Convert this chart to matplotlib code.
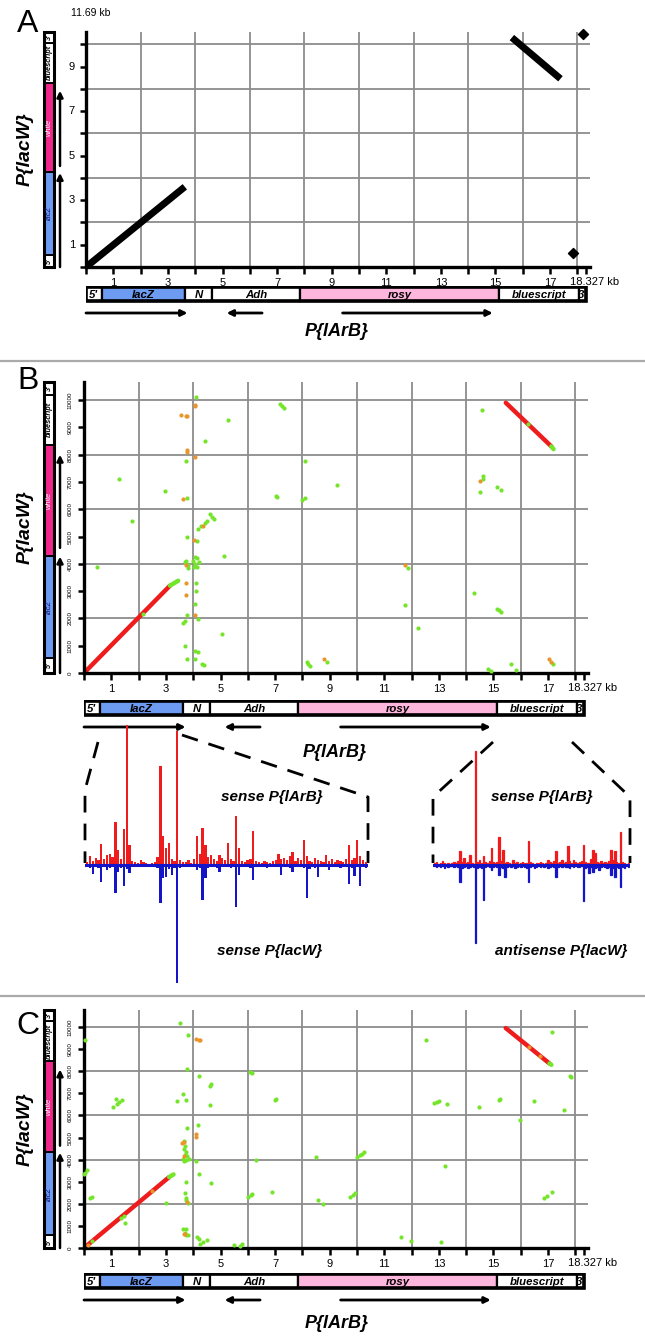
import matplotlib
matplotlib.use('Agg')
import matplotlib.pyplot as plt
from matplotlib.patches import Rectangle

plt.rcParams['font.family'] = ['Liberation Sans', 'DejaVu Sans']

# ---------------- data ----------------
# P{lArB} map along the x axis (kb)
larb_names = ["5'", 'lacZ', 'N', 'Adh', 'rosy', 'bluescript', "3'"]
larb_bounds = [0, 0.58, 3.62, 4.62, 7.84, 15.12, 18.05, 18.327]
larb_colors = ['white', '#6d9bf2', 'white', 'white', '#ffb6dd', 'white', 'white']
larb_arrows = [(0.0, 3.72), (6.45, 5.15), (9.4, 14.9)]

# P{lacW} map along the y axis (fraction of axis height)
lacw_names = ["5'", 'lacZ', 'white', 'bluescript', "3'"]
lacw_bounds = [0, 0.053, 0.403, 0.785, 0.955, 1.0]
lacw_colors = ['white', '#6d9bf2', '#f0288c', 'white', 'white']
lacw_text_colors = ['black', '#10106a', 'white', 'black', 'black']
lacw_arrows = [(0.0, 0.40), (0.43, 0.75)]

x_ticks = list(range(0, 19))
x_labels = [str(v) if v % 2 == 1 else '' for v in x_ticks]
grid_x = [2, 4, 6, 8, 10, 12, 14, 16, 18]

# panel A (kb vs kb)
a_line_x = [[0, 3.62], [15.6, 17.38]]
a_line_y = [[0, 3.6], [10.3, 8.45]]
a_spot_x = [18.2, 17.85]
a_spot_y = [10.45, 0.62]

# panel B (kb vs bp)
b_red_x = [[0, 3.15], [15.45, 17.12]]
b_red_y = [[0, 3200], [9900, 8300]]
b_tip_x = [[3.15, 3.45], [17.12, 17.2]]
b_tip_y = [[3200, 3380], [8300, 8200]]
b_green_x = [4.09, 5.27, 4.43, 3.72, 1.29, 2.96, 3.76, 1.75, 4.19, 4.3, 4.45, 4.5,
             4.62, 4.7, 4.78, 3.79, 4.14, 5.14, 3.7, 3.8, 3.75, 4.0, 4.08, 4.13,
             4.15, 4.06, 4.2, 4.02, 3.82, 0.46, 4.1, 4.1, 4.06, 4.16, 3.63, 3.7,
             3.77, 5.06, 3.7, 4.06, 4.16, 3.77, 4.06, 4.31, 4.4, 7.02, 7.06, 7.17,
             7.25, 7.33, 8.1, 8.0, 8.09, 9.25, 8.17, 8.22, 8.28, 8.89, 14.59, 14.6,
             14.63, 14.51, 15.13, 15.26, 11.87, 14.29, 11.76, 15.13, 15.2, 15.28,
             12.24, 14.8, 14.9, 15.65, 15.84, 17.18, 2.15, 16.25]
b_green_y = [10120, 9250, 8500, 7760, 7090, 6670, 6410, 5570, 5260, 5370, 5500, 5560,
             5810, 5720, 5650, 4970, 4850, 4280, 4050, 3950, 4100, 4100, 4000, 4200,
             3900, 4250, 4080, 3870, 3850, 3890, 3300, 3000, 2520, 1980, 1830, 1890,
             2130, 1430, 990, 800, 780, 530, 510, 330, 285, 6490, 6460, 9860,
             9790, 9710, 7760, 6340, 6410, 6890, 400, 330, 250, 390, 9650, 7120,
             7200, 6620, 6800, 6700, 3850, 2930, 2500, 2360, 2300, 2250,
             1640, 135, 90, 315, 120, 330, 2150, 9130]
b_orange_x = [4.06, 4.08, 3.55, 3.79, 3.75, 3.77, 3.78, 4.06, 3.63, 4.35, 4.04,
              3.75, 3.75, 4.06, 3.72, 8.78, 11.74, 14.5, 17.03, 17.1]
b_orange_y = [9790, 9830, 9440, 9410, 9420, 8170, 8110, 7930, 6370, 5400, 4880,
              3290, 2870, 2130, 3950, 510, 3970, 7050, 500, 420]

# panel C (kb vs bp)
c_red_x = [[0, 3.12], [15.45, 17.05]]
c_red_y = [[0, 3210], [9950, 8350]]
c_tip_x = [[3.12, 3.28], [17.05, 17.12]]
c_tip_y = [[3210, 3330], [8350, 8290]]
c_green_x = [0.05, 0.05, 0.1, 0.0, 0.23, 0.28, 1.07, 1.2, 1.3, 1.4, 1.19, 1.52, 1.35,
             3.0, 3.53, 3.8, 3.76, 4.23, 4.61, 4.65, 3.62, 3.73, 3.42, 4.61, 4.19,
             3.76, 3.68, 3.7, 3.65, 3.72, 3.7, 3.62, 3.75, 3.85, 3.78, 3.65, 4.11,
             4.22, 3.73, 4.64, 3.7, 3.73, 3.8, 3.75, 3.62, 3.72, 3.7, 3.75, 3.8,
             4.15, 4.2, 4.26, 4.35, 4.49, 5.48, 5.7, 5.78, 6.09, 6.16, 6.29, 6.01,
             6.1, 6.16, 6.88, 7.0, 7.05, 8.49, 8.57, 8.75, 9.74, 9.84, 9.94, 10.0,
             10.1, 10.18, 10.27, 11.61, 11.99, 13.06, 12.53, 12.83, 12.92, 13.0,
             13.29, 13.21, 14.46, 15.19, 15.25, 16.48, 15.98, 17.15, 17.8, 17.85,
             17.6, 16.86, 16.97, 17.15, 0.3, 1.45]
c_green_y = [9430, 3400, 3520, 3330, 2280, 2330, 6400, 6530, 6620, 6700, 6730, 1150,
             1380, 2050, 10180, 9630, 8080, 7800, 7350, 7400, 6960, 6700, 6660, 6480,
             5580, 5430, 4830, 4600, 4500, 4350, 4200, 4050, 4000, 4020, 4150, 3950,
             3930, 3360, 3000, 2950, 2500, 2280, 2050, 2150, 850, 850, 700, 600, 580,
             480, 400, 180, 250, 370, 130, 100, 180, 7980, 7930, 4000, 2320,
             2380, 2430, 2530, 6700, 6750, 4120, 2160, 1980, 2320, 2400, 2500, 4120,
             4200, 4270, 4330, 520, 330, 285, 9430, 6550, 6610, 6670,
             6500, 3700, 6400, 6700, 6750, 6630, 5770, 9780, 7780, 7750,
             6250, 2280, 2350, 2550, 300, 1450]
c_orange_x = [4.11, 4.26, 4.2, 3.6, 3.68, 3.65, 4.12, 4.12, 3.65, 3.7, 3.78,
              0.15, 2.5, 16.3, 16.7]
c_orange_y = [9450, 9390, 9420, 4750, 4800, 4150, 5160, 5010, 650, 620, 2100,
              150, 2580, 9100, 8700]

# read coverage, 100 bins across each zoomed region (height in plot units)
cov_left_sense = [3, 9, 4, 7, 5, 21, 6, 10, 11, 8, 43, 15, 6, 36, 140, 20, 4, 3, 2, 5,
                  3, 2, 1, 2, 3, 8, 99, 29, 17, 22, 6, 4, 134, 5, 3, 3, 5, 2, 6, 29,
                  11, 37, 20, 8, 10, 6, 4, 10, 7, 5, 22, 6, 4, 49, 17, 4, 3, 5, 6, 34,
                  4, 3, 2, 4, 3, 2, 4, 5, 11, 6, 7, 5, 9, 13, 4, 7, 5, 25, 9, 4,
                  3, 7, 5, 4, 3, 10, 4, 6, 3, 5, 4, 3, 6, 20, 5, 7, 25, 9, 5, 3]
cov_left_anti = [2, 3, 9, 2, 3, 17, 2, 5, 3, 2, 28, 7, 3, 21, 4, 8, 2, 1, 2, 1,
                 1, 2, 1, 1, 2, 3, 38, 13, 12, 4, 10, 3, 118, 3, 2, 1, 2, 1, 2, 5,
                 3, 35, 13, 3, 2, 2, 3, 7, 2, 1, 2, 3, 2, 42, 10, 2, 1, 2, 3, 15,
                 2, 1, 2, 1, 3, 2, 1, 2, 2, 10, 2, 1, 3, 7, 2, 1, 2, 3, 33, 4,
                 2, 3, 12, 2, 1, 2, 5, 2, 1, 2, 3, 2, 2, 19, 3, 11, 2, 21, 2, 3]
cov_right_sense = [2, 3, 1, 2, 4, 2, 1, 2, 1, 2, 3, 2, 4, 14, 3, 7, 2, 3, 10, 2,
                   1, 114, 3, 5, 2, 9, 3, 2, 4, 17, 3, 2, 3, 28, 4, 15, 2, 3, 2, 1,
                   5, 2, 3, 1, 2, 3, 2, 2, 24, 3, 2, 1, 2, 2, 3, 2, 1, 2, 5, 3,
                   2, 4, 14, 2, 3, 5, 2, 3, 19, 4, 2, 5, 3, 2, 3, 4, 20, 3, 2, 2,
                   6, 15, 12, 3, 2, 4, 2, 3, 2, 4, 15, 5, 14, 3, 2, 33, 3, 2, 1, 2]
cov_right_anti = [1, 2, 1, 2, 1, 3, 1, 2, 1, 1, 2, 1, 2, 17, 3, 2, 1, 3, 2, 1,
                  2, 78, 3, 2, 3, 35, 2, 1, 2, 5, 2, 1, 2, 10, 2, 3, 12, 2, 1, 2,
                  1, 3, 2, 1, 2, 1, 2, 3, 17, 2, 1, 3, 2, 1, 2, 1, 2, 1, 3, 2,
                  1, 2, 12, 2, 1, 2, 1, 2, 2, 3, 1, 2, 1, 2, 2, 1, 36, 3, 2, 8,
                  2, 7, 3, 2, 5, 2, 1, 2, 3, 2, 10, 3, 12, 2, 3, 22, 2, 3, 1, 2]

# ---------------- layout ----------------
W, H = 645, 1341
fig = plt.figure(figsize=(W / 100, H / 100), dpi=100)

GRID = '#8c8c8c'
GREEN = '#74e52a'
ORANGE = '#e8962c'
RED = '#ee1c1c'
BLUE = '#1414c8'
KB_PX = 27.3
XMAX = 18.45


def px_axes(x0, y0, x1, y1):
    return fig.add_axes([x0 / W, 1 - y1 / H, (x1 - x0) / W, (y1 - y0) / H])


ov = px_axes(0, 0, W, H)
ov.set_xlim(0, W)
ov.set_ylim(H, 0)
ov.axis('off')


def dot_axes(x0, ytop, ybot, ymax, yticks, ylabels, ygrid, yfs, yrot):
    ax = px_axes(x0, ytop, x0 + XMAX * KB_PX, ybot)
    ax.set_xlim(0, XMAX)
    ax.set_ylim(0, ymax)
    ax.patch.set_alpha(0)
    for s in ['top', 'right']:
        ax.spines[s].set_visible(False)
    for s in ['left', 'bottom']:
        ax.spines[s].set_linewidth(2.4)
    for g in grid_x:
        ax.axvline(g, color=GRID, lw=1.3, zorder=0)
    for g in ygrid:
        ax.axhline(g, color=GRID, lw=1.3, zorder=0)
    ax.set_xticks(x_ticks + [18.327])
    ax.set_xticklabels(x_labels + [''])
    ax.tick_params(axis='x', length=5, width=1.8, labelsize=8, pad=3, colors='black')
    ax.set_yticks(yticks)
    ax.set_yticklabels(ylabels, rotation=yrot, fontsize=yfs, va='center')
    ax.tick_params(axis='y', length=4, width=1.8, pad=4)
    ax.annotate('18.327 kb', xy=(18.327, 0), xytext=(-16, -10),
                textcoords='offset pixels', ha='left', va='top', fontsize=8)
    return ax


def larb_map(x0, ytop):
    ax = px_axes(x0, ytop, x0 + XMAX * KB_PX, ytop + 34)
    ax.set_xlim(0, XMAX)
    ax.set_ylim(34, 0)
    ax.axis('off')
    for i, name in enumerate(larb_names):
        a, b = larb_bounds[i], larb_bounds[i + 1]
        ax.add_patch(Rectangle((a, 1), b - a, 14, facecolor=larb_colors[i],
                               edgecolor='black', lw=1.6))
        ax.text((a + b) / 2, 8.6, name, ha='center', va='center', fontsize=8.2,
                fontweight='bold', style='italic')
    ax.add_patch(Rectangle((0, 1), 18.327, 14, fill=False, edgecolor='black', lw=2.6))
    for s, e in larb_arrows:
        ax.annotate('', xy=(e, 27), xytext=(s, 27),
                    arrowprops=dict(arrowstyle='-|>', lw=2, color='black',
                                    mutation_scale=9, shrinkA=0, shrinkB=0))
    return ax


def lacw_map(ytop, ybot):
    hgt = ybot - ytop
    for i, name in enumerate(lacw_names):
        a = ybot - lacw_bounds[i] * hgt
        b = ybot - lacw_bounds[i + 1] * hgt
        ov.add_patch(Rectangle((44, b), 10, a - b, facecolor=lacw_colors[i],
                               edgecolor='black', lw=1.4))
        ov.text(49.3, (a + b) / 2, name, rotation=90, ha='center', va='center',
                fontsize=5.3, color=lacw_text_colors[i],
                fontweight='normal' if name in ('lacZ', 'white') else 'bold',
                style='italic')
    ov.add_patch(Rectangle((44, ytop), 10, hgt, fill=False, edgecolor='black', lw=2.2))
    for s, e in lacw_arrows:
        ov.annotate('', xy=(60, ybot - e * hgt), xytext=(60, ybot - s * hgt),
                    arrowprops=dict(arrowstyle='-|>', lw=1.8, color='black',
                                    mutation_scale=9, shrinkA=0, shrinkB=0))
    ov.text(25, (ytop + ybot) / 2, 'P{lacW}', rotation=90, ha='center', va='center',
            fontsize=14, fontweight='bold', style='italic')


def scatter_hits(ax, gx, gy, ox, oy):
    ax.scatter(gx, gy, s=9, color=GREEN, lw=0, zorder=3, clip_on=False)
    ax.scatter(ox, oy, s=9, color=ORANGE, lw=0, zorder=3, clip_on=False)


# ---------------- panel A ----------------
ov.text(28, 24, 'A', fontsize=23, ha='center', va='center')
ov.text(91, 13, '11.69 kb', fontsize=7.5, ha='center', va='center')
axA = dot_axes(86, 32, 267, 10.55, list(range(0, 11)),
               [str(v) if v % 2 == 1 else '' for v in range(0, 11)],
               [2, 4, 6, 8, 10], 8, 0)
for lx, ly in zip(a_line_x, a_line_y):
    axA.plot(lx, ly, color='black', lw=5, solid_capstyle='butt', zorder=3)
axA.scatter(a_spot_x, a_spot_y, marker='D', s=26, color='black', zorder=3, clip_on=False)
lacw_map(32, 267)
larb_map(86, 286)
ov.text(337, 331, 'P{lArB}', fontsize=13, fontweight='bold', style='italic',
        ha='center', va='center')

ov.plot([0, W], [361, 361], color='#aaaaaa', lw=1.6)

# ---------------- panel B ----------------
bp_ticks = list(range(0, 10001, 1000))
bp_labels = [str(v) for v in bp_ticks]
ov.text(28, 381, 'B', fontsize=23, ha='center', va='center')
axB = dot_axes(84, 382, 673, 10660, bp_ticks, bp_labels,
               [2000, 4000, 6000, 8000, 10000], 4.5, 90)
for lx, ly in zip(b_red_x, b_red_y):
    axB.plot(lx, ly, color=RED, lw=3.2, solid_capstyle='round', zorder=2)
for lx, ly in zip(b_tip_x, b_tip_y):
    axB.plot(lx, ly, color=GREEN, lw=3.2, solid_capstyle='round', zorder=2)
scatter_hits(axB, b_green_x, b_green_y, b_orange_x, b_orange_y)
lacw_map(382, 673)
larb_map(84, 700)
ov.text(335, 752, 'P{lArB}', fontsize=13, fontweight='bold', style='italic',
        ha='center', va='center')

# zoom guides
dash = dict(color='black', lw=2, dashes=(6, 4))
ov.plot([98, 85, 85], [742, 790, 863], **dash)
ov.plot([182, 368, 368], [735, 797, 863], **dash)
ov.plot([493, 433, 433], [742, 797, 863], **dash)
ov.plot([572, 630, 630], [742, 797, 863], **dash)


def coverage(x0, x1, sense, anti, edge):
    ax = px_axes(x0, 720, x1, 990)
    ax.set_xlim(-0.8, 99.8)
    ax.set_ylim(-125, 145)
    ax.axis('off')
    pos = list(range(len(sense)))
    ax.bar(pos, sense, width=0.8, color=RED, edgecolor=RED, lw=edge)
    ax.bar(pos, [-v for v in anti], width=0.8, color=BLUE, edgecolor=BLUE, lw=edge)
    ax.axhline(0, color=BLUE, lw=2.2)
    return ax


coverage(85, 368, cov_left_sense, cov_left_anti, 0)
coverage(433, 630, cov_right_sense, cov_right_anti, 0.9)
txt = dict(fontsize=11, fontweight='bold', style='italic', ha='center', va='center')
ov.text(272, 797, 'sense P{lArB}', **txt)
ov.text(542, 797, 'sense P{lArB}', **txt)
ov.text(270, 951, 'sense P{lacW}', **txt)
ov.text(561, 951, 'antisense P{lacW}', **txt)

ov.plot([0, W], [996, 996], color='#aaaaaa', lw=1.6)

# ---------------- panel C ----------------
ov.text(28, 1026, 'C', fontsize=23, ha='center', va='center')
axC = dot_axes(84, 1010, 1248, 10770, bp_ticks, bp_labels,
               [2000, 4000, 6000, 8000, 10000], 4.5, 90)
for lx, ly in zip(c_red_x, c_red_y):
    axC.plot(lx, ly, color=RED, lw=3.2, solid_capstyle='round', zorder=2)
for lx, ly in zip(c_tip_x, c_tip_y):
    axC.plot(lx, ly, color=GREEN, lw=3.2, solid_capstyle='round', zorder=2)
scatter_hits(axC, c_green_x, c_green_y, c_orange_x, c_orange_y)
lacw_map(1010, 1248)
larb_map(84, 1273)
ov.text(337, 1323, 'P{lArB}', fontsize=13, fontweight='bold', style='italic',
        ha='center', va='center')

fig.savefig('out.png', dpi=100)
